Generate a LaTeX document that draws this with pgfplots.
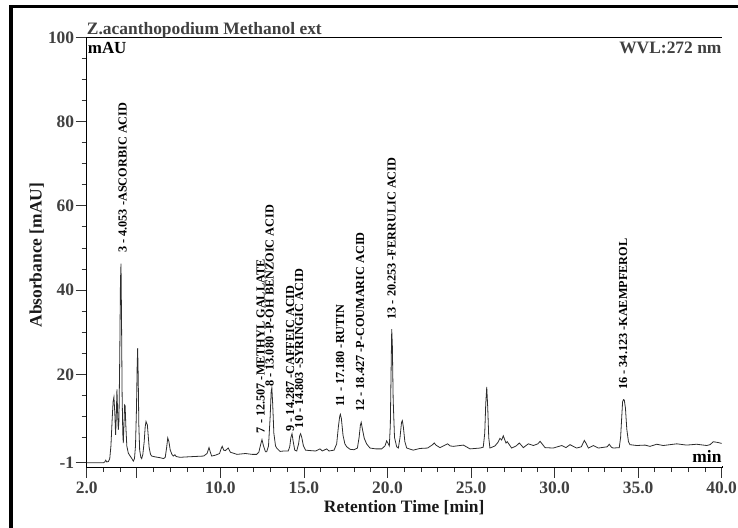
\documentclass[border=0pt]{standalone}
\usepackage{fontspec}
\setmainfont{Liberation Serif}
\usepackage{pgfplots}
\pgfplotsset{compat=1.18}
\definecolor{tcol}{RGB}{64,64,64}
\definecolor{lcol}{RGB}{45,45,45}
\newcommand{\fs}[1]{\fontsize{#1}{#1}\selectfont\bfseries}
\begin{document}
\begin{tikzpicture}
\begin{axis}[
  name=ax,
  scale only axis, width=635bp, height=429.7bp,
  at={(0,0)}, anchor=south west,
  xmin=2, xmax=40, ymin=-2, ymax=100,
  clip mode=individual,
  xtick={2,5,10,15,20,25,30,35,40},
  xticklabels={2.0,,10.0,15.0,20.0,25.0,30.0,35.0,40.0},
  minor xtick={3,4,6,7,8,9,11,12,13,14,16,17,18,19,21,22,23,24,26,27,28,29,31,32,33,34,36,37,38,39},
  ytick={-1,20,40,60,80,100},
  yticklabels={-1,20,40,60,80,100},
  minor ytick={5,10,15,25,30,35,45,50,55,65,70,75,85,90,95},
  tick align=outside,
  major tick length=11bp, minor tick length=5bp,
  every major tick/.append style={black!80, line width=0.8bp},
  every minor tick/.append style={black!80, line width=0.8bp},
  ticklabel style={font=\fs{17.5}, text=tcol},
  yticklabel style={xshift=2bp},
  xlabel={Retention Time [min]},
  ylabel={Absorbance [mAU]},
  label style={font=\fs{17.5}, text=black!90},
  xlabel style={at={(axis description cs:0.5,0)}, anchor=center, yshift=-41bp},
  ylabel style={at={([xshift=-50bp]axis description cs:0,0.493)}, anchor=center},
]
\addplot[color=lcol, line width=0.8bp, mark=none] coordinates {
(2.0,-1) (3.0,-1) (3.08,-0.8) (3.14,-0.4) (3.2,-0.8) (3.3,-0.7) (3.38,0) (3.45,3) (3.52,9) (3.58,13.5) (3.63,14.6) (3.68,11) (3.73,5.6) (3.77,10) (3.81,16.4) (3.85,11) (3.89,6.8) (3.93,9) (3.98,25) (4.02,42) (4.053,46.3) (4.08,35) (4.12,15) (4.16,6) (4.19,3.7) (4.23,8) (4.27,12.7) (4.30,12.5) (4.34,8) (4.40,3) (4.49,1.3) (4.6,0.6) (4.7,0) (4.79,-0.6) (4.86,0) (4.92,3) (4.98,12) (5.02,22) (5.05,26.2) (5.08,20) (5.12,8) (5.17,2) (5.24,0.3) (5.29,0) (5.36,1) (5.44,4) (5.5,7.5) (5.55,8.8) (5.6,8.3) (5.63,8) (5.68,5.5) (5.74,2.5) (5.82,1) (5.89,0.6) (6.1,0.4) (6.4,0.2) (6.6,0) (6.7,0.3) (6.78,2.5) (6.85,4.9) (6.92,4) (7.0,2) (7.1,1) (7.18,0.6) (7.28,0.9) (7.35,0.5) (7.58,0.3) (8.0,0.4) (8.5,0.5) (9.0,0.6) (9.2,1.2) (9.32,2.6) (9.4,1.5) (9.48,0.6) (9.7,0.8) (9.95,1.2) (10.05,2.4) (10.11,2.9) (10.2,2.0) (10.3,1.9) (10.47,2.5) (10.6,1.5) (11.0,1.0) (11.5,1.2) (11.9,1.0) (12.17,1.0) (12.3,1.5) (12.42,3.5) (12.49,4.5) (12.58,3) (12.7,1.6) (12.77,1.6) (12.88,3) (12.98,10) (13.04,16) (13.08,16.8) (13.13,13) (13.2,6) (13.3,3) (13.37,2.5) (13.57,1.7) (13.8,1.8) (14.06,1.8) (14.15,2.8) (14.22,5) (14.287,5.9) (14.36,4) (14.45,2) (14.57,1.8) (14.68,3.5) (14.75,5.5) (14.803,5.9) (14.87,5) (14.97,3) (15.1,2) (15.36,1.9) (15.7,1.8) (15.96,2.3) (16.1,1.8) (16.36,2.3) (16.5,1.8) (16.8,2.0) (16.96,3.5) (17.06,7.5) (17.14,10) (17.18,10.5) (17.24,9.5) (17.34,5.5) (17.45,3.5) (17.56,2.8) (17.76,2.2) (18.0,2.1) (18.2,2.5) (18.3,5) (18.38,8) (18.427,8.6) (18.5,7) (18.61,4.8) (18.75,3.5) (18.95,2.5) (19.3,2.3) (19.65,2.3) (19.85,3) (19.95,4.2) (20.05,3.5) (20.11,3.0) (20.17,8) (20.22,22) (20.253,30.7) (20.29,27) (20.34,14) (20.42,5) (20.55,2.8) (20.65,2.5) (20.75,5) (20.84,8.6) (20.89,9.0) (20.95,7.5) (21.04,4) (21.15,2.5) (21.54,2.0) (21.94,2.4) (22.4,2.5) (22.7,3.3) (22.8,3.7) (22.9,3.2) (23.14,2.6) (23.45,3.2) (23.6,3.5) (23.75,3.0) (23.94,2.9) (24.54,3.2) (24.94,2.3) (25.54,2.5) (25.73,2.7) (25.82,6) (25.88,13) (25.94,17.0) (26.0,12) (26.06,5) (26.13,2.5) (26.43,3.0) (26.6,3.8) (26.73,4.8) (26.83,4.4) (26.93,5.4) (27.09,3.7) (27.17,4.0) (27.43,2.5) (27.7,3.0) (27.89,3.7) (28.13,2.6) (28.43,3.5) (28.73,3.1) (29.0,3.5) (29.13,4.1) (29.43,2.6) (29.92,2.5) (30.43,3.1) (30.68,2.6) (30.92,3.3) (31.32,2.5) (31.6,2.8) (31.78,4.3) (31.9,3.5) (32.02,2.5) (32.32,3.1) (32.62,2.5) (33.15,2.8) (33.27,3.4) (33.4,2.7) (33.51,2.5) (33.87,2.6) (33.95,5) (34.02,10) (34.07,13.5) (34.12,14.0) (34.17,13.9) (34.24,12) (34.32,7) (34.42,4) (34.51,3.3) (34.91,3.1) (35.41,3.2) (35.71,2.9) (36.11,3.4) (36.5,3.1) (36.9,3.3) (37.31,3.5) (37.9,3.2) (38.5,3.4) (39.1,3.1) (39.3,3.3) (39.5,4.0) (39.8,3.8) (40.0,3.6)
};
\begin{scope}[every node/.style={rotate=90, anchor=west, inner sep=0pt, font=\fs{12.3}, text=black}]
\node at (axis cs:4.15,48.8) {3 - 4.053 -ASCORBIC ACID};
\node at (axis cs:12.41,6.0) {7 - 12.507 -METHYL GALLATE};
\node at (axis cs:12.95,17.0) {8 - 13.080 -P-OH BENZOIC ACID};
\node at (axis cs:14.18,6.4) {9 - 14.287 -CAFFEIC ACID};
\node at (axis cs:14.72,7.2) {10 - 14.803 -SYRINGIC ACID};
\node at (axis cs:17.16,12.3) {11 - 17.180 -RUTIN};
\node at (axis cs:18.37,11.1) {12 - 18.427 -P-COUMARIC ACID};
\node at (axis cs:20.25,33.0) {13 - 20.253 -FERRULIC ACID};
\node at (axis cs:34.11,16.3) {16 - 34.123 -KAEMPFEROL};
\end{scope}
\node[anchor=base west, inner sep=0pt, font=\fs{17}, text=black] at ([xshift=1bp,yshift=-16bp]rel axis cs:0,1) {mAU};
\node[anchor=base east, inner sep=0pt, font=\fs{17.5}, text=tcol] at ([yshift=-16bp]rel axis cs:1,1) {WVL:272 nm};
\node[anchor=base east, inner sep=0pt, font=\fs{17.5}, text=black] at ([yshift=4.7bp]rel axis cs:1,0) {min};
\end{axis}
% hide the ticks on the top and right sides (the reference has ticks only bottom/left)
\fill[white] ([xshift=-1bp,yshift=0.6bp]ax.north west) rectangle ([xshift=14bp,yshift=14bp]ax.north east);
\fill[white] ([xshift=0.6bp,yshift=0.6bp]ax.south east) rectangle ([xshift=14bp,yshift=14bp]ax.north east);
\node[anchor=base west, inner sep=0pt, font=\fs{17.5}, text=tcol] at ([yshift=3bp]ax.north west) {Z.acanthopodium Methanol ext};
\draw[line width=3.3bp, black] (-75.7bp,-61bp) -- (-75.7bp,460.3bp) -- (651.3bp,460.3bp);
\pgfresetboundingbox
\path[use as bounding box] (-86.7bp,-61bp) rectangle (651.3bp,467bp);
\end{tikzpicture}
\end{document}
